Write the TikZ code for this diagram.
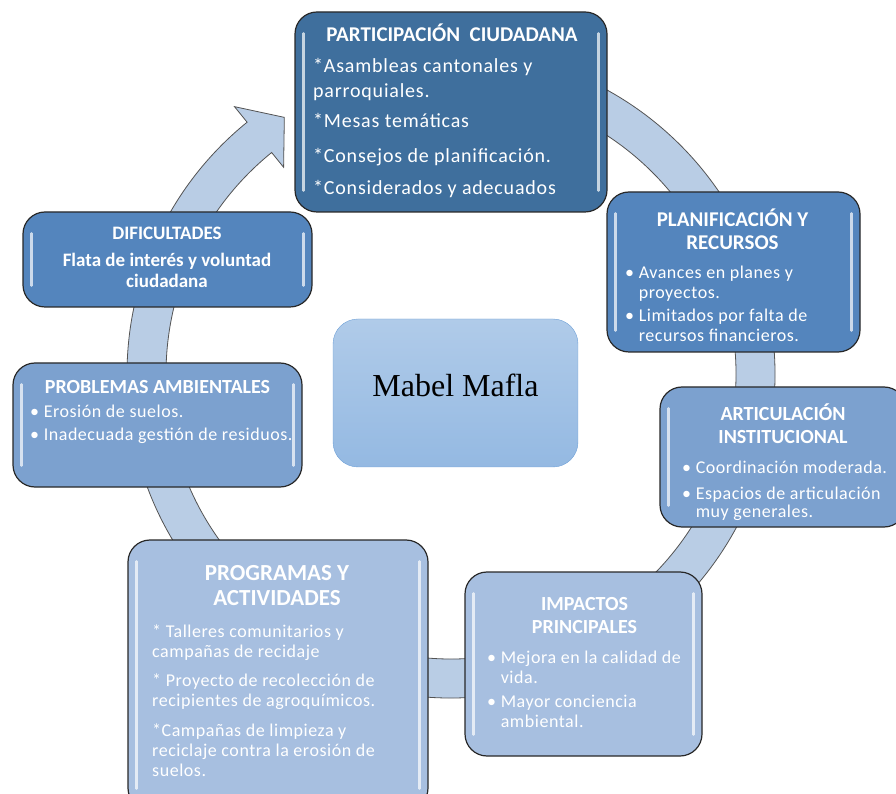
\documentclass[tikz,border=0pt]{standalone}
\usepackage{fontspec}
\setmainfont{Carlito}
\newfontfamily\serifa{Liberation Serif}

\definecolor{azulA}{RGB}{63,111,157}
\definecolor{azulB}{RGB}{84,133,189}
\definecolor{azulC}{RGB}{124,161,207}
\definecolor{azulD}{RGB}{167,191,224}
\definecolor{anillo}{RGB}{185,205,229}
\definecolor{borde}{RGB}{40,40,40}
\definecolor{centroA}{RGB}{176,203,233}
\definecolor{centroB}{RGB}{148,185,226}
\definecolor{centroBorde}{RGB}{110,160,215}

\newcommand{\sangria}{\phantom{\textbullet\ }}

\tikzset{
  caja/.style={draw=borde, line width=1.2pt, rounded corners=22pt, inner sep=0pt},
  titulo/.style={text=white, font=\bfseries\fontsize{20}{23}\selectfont, align=center, anchor=base, inner sep=0pt},
  cuerpo/.style={text=white, font=\fontsize{18}{20}\selectfont\addfontfeature{LetterSpace=3}, align=left, anchor=base west, inner sep=0pt},
  brillo/.style={white, opacity=0.7, line width=2.5pt, line cap=round},
}

\begin{document}
\begin{tikzpicture}[x=1pt, y=1pt]

    \useasboundingbox (0,0) rectangle (896,793);
    \clip (0,0) rectangle (896,793);

    % ring with arrow head
    \begin{scope}[shift={(451,419)}]
        \draw[fill=anillo, draw=borde!80, line width=0.8pt]
            (95:324) arc[start angle=95, end angle=-231, radius=324]
            -- (-231:344) -- (-237:306) -- (-231:266) -- (-231:285)
            arc[start angle=-231, end angle=95, radius=285] -- cycle;
    \end{scope}

    \node(part)[caja, fill=azulA, minimum width=312pt, minimum height=200pt] at (451,681) {};
    \node(plan)[caja, fill=azulB, minimum width=253pt, minimum height=160pt] at (733.5,521) {};
    \node(arti)[caja, fill=azulC, minimum width=246pt, minimum height=140pt] at (783,336) {};
    \node(impa)[caja, fill=azulD, minimum width=237pt, minimum height=184pt] at (583.5,129) {};
    \node(prog)[caja, fill=azulD, minimum width=300pt, minimum height=270pt] at (278,118) {};
    \node(prob)[caja, fill=azulC, minimum width=289pt, minimum height=124pt] at (157.5,368) {};
    \node(difi)[caja, fill=azulB, minimum width=289pt, minimum height=95pt] at (167.5,533.5) {};

    \foreach \b in {part, plan, arti, impa, prog, prob, difi}
    {
        \draw[brillo] ([xshift=9pt,yshift=-22pt]\b.north west) -- ([xshift=9pt,yshift=22pt]\b.south west);
        \draw[brillo] ([xshift=-9pt,yshift=-22pt]\b.north east) -- ([xshift=-9pt,yshift=22pt]\b.south east);
    }

    \node(centro)[draw=centroBorde, top color=centroA, bottom color=centroB, rounded corners=25pt,
        minimum width=245pt, minimum height=148pt, text height=22pt, text depth=14pt]
        at (455.5,400) {\serifa\fontsize{32}{36}\selectfont Mabel Mafla};

    % base of a multi-line node = baseline of its last line
    \node(t1)[titulo, font=\bfseries\fontsize{21}{23}\selectfont] at (452,751.5) {PARTICIPACIÓN\ \ CIUDADANA};
    \node(c1)[cuerpo, font=\fontsize{20}{25}\selectfont\addfontfeature{LetterSpace=4}] at (313,598.3)
        {*Asambleas cantonales y\\parroquiales.\\[5pt]*Mesas temáticas\\[10pt]*Consejos de planificación.\\[7pt]*Considerados y adecuados};

    \node(t2)[titulo, font=\bfseries\fontsize{21}{23}\selectfont] at (732.5,543.5) {PLANIFICACIÓN Y\\RECURSOS};
    \node(c2)[cuerpo] at (625,451)
        {\textbullet\ Avances en planes y\\\sangria proyectos.\\[3pt]\textbullet\ Limitados por falta de\\\sangria recursos financieros.};

    \node(t3)[titulo] at (783,349.5) {ARTICULACIÓN\\INSTITUCIONAL};
    \node(c3)[cuerpo] at (682,276)
        {\textbullet\ Coordinación moderada.\\[6pt]\textbullet\ Espacios de articulación\\[-2pt]\sangria muy generales.};

    \node(t4)[titulo] at (584.5,159.5) {IMPACTOS\\PRINCIPALES};
    \node(c4)[cuerpo] at (487,66)
        {\textbullet\ Mejora en la calidad de\\\sangria vida.\\[4pt]\textbullet\ Mayor conciencia\\\sangria ambiental.};

    \node(t5)[titulo, font=\bfseries\fontsize{23}{25}\selectfont] at (277,188) {PROGRAMAS Y\\ACTIVIDADES};
    \node(c5)[cuerpo] at (152,17)
        {* Talleres comunitarios y\\campañas de recidaje\\[9pt]* Proyecto de recolección de\\recipientes de agroquímicos.\\[10pt]*Campañas de limpieza y\\reciclaje contra la erosión de\\suelos.};

    \node(t6)[titulo] at (157.5,399.5) {PROBLEMAS AMBIENTALES};
    \node(c6)[cuerpo] at (30,352)
        {\textbullet\ Erosión de suelos.\\[4pt]\textbullet\ Inadecuada gestión de residuos.};

    \node(t7)[titulo, font=\bfseries\fontsize{19}{21}\selectfont] at (167,505)
        {DIFICULTADES\\[6pt]Flata de interés y voluntad\\ciudadana};

\end{tikzpicture}
\end{document}
